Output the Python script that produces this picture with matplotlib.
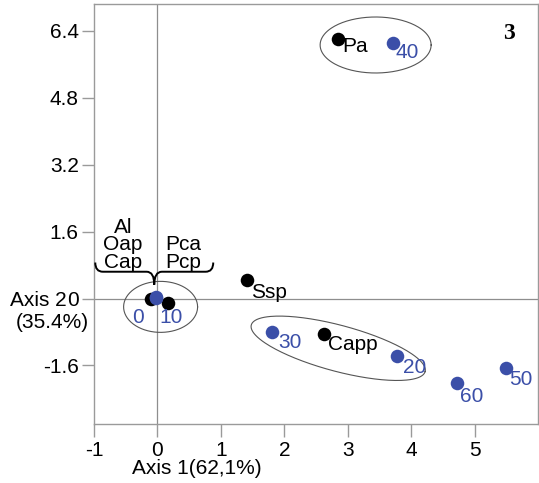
import numpy as np
import matplotlib
matplotlib.use("Agg")
import matplotlib.pyplot as plt
from matplotlib.path import Path
from matplotlib.patches import PathPatch

plt.rcParams['font.family'] = ['Liberation Sans', 'DejaVu Sans']

# ordination scores: taxa (black) and sampling depths (blue)
taxa_names = ["", "", "Ssp", "Pa", "Capp"]
taxa_x = [-0.10, 0.16, 1.41, 2.85, 2.63]
taxa_y = [0.00, -0.10, 0.45, 6.20, -0.84]

depth_names = ["0", "10", "20", "30", "40", "50", "60"]
depth_x = [-0.03, -0.02, 3.78, 1.81, 3.72, 5.49, 4.73]
depth_y = [0.03, 0.01, -1.38, -0.79, 6.10, -1.67, -2.03]

# taxa sitting on the origin, listed above the brace
group_left = ["Al", "Oap", "Cap"]
group_right = ["Pca", "Pcp"]

x_ticks = [-1, 0, 1, 2, 3, 4, 5]
y_ticks = [-1.6, 0, 1.6, 3.2, 4.8, 6.4]

# label offsets in pixels (left edge, vertical centre)
taxa_off = [(0, 0), (0, 0), (4, -13), (4, -7), (4, -11)]
depth_off = [(-23, -20), (3, -19), (6, -11), (6, -11), (2, -9), (4, -11), (3, -13)]

FS = 15
BLUE = "#3b4fa8"
GRID = "#8e8e8e"

fig = plt.figure(figsize=(5.39, 4.83), dpi=100)
ax = fig.add_axes([94 / 539, 59 / 483, 444 / 539, 420 / 483])
ax.set_xlim(-1, 6)
ax.set_ylim(-3, 7.04)

for s in ax.spines.values():
    s.set_color("#9a9a9a")
    s.set_linewidth(1.0)

ax.axhline(0, color=GRID, lw=0.9, zorder=1)
ax.axvline(0, color=GRID, lw=0.9, zorder=1)

ax.set_xticks(x_ticks)
ax.set_xticklabels([str(t) for t in x_ticks])
ax.set_yticks(y_ticks)
ax.set_yticklabels(["0" if t == 0 else f"{t:.1f}" for t in y_ticks])
ax.tick_params(axis="both", length=9, width=1, color="#9a9a9a",
               labelsize=FS, labelcolor="black")
ax.tick_params(axis="y", pad=2)
ax.tick_params(axis="x", pad=3)

ax.scatter(taxa_x, taxa_y, s=95, color="black", zorder=3, linewidths=0)
ax.scatter(depth_x, depth_y, s=95, color=BLUE, zorder=4, linewidths=0)

for name, x, y, off in zip(taxa_names, taxa_x, taxa_y, taxa_off):
    if name:
        ax.annotate(name, (x, y), xytext=off, textcoords="offset pixels",
                    ha="left", va="center", fontsize=FS, color="black", zorder=5)
for name, x, y, off in zip(depth_names, depth_x, depth_y, depth_off):
    ax.annotate(name, (x, y), xytext=off, textcoords="offset pixels",
                ha="left", va="center", fontsize=FS, color=BLUE, zorder=5)

# group ellipses: data centre, size in pixels, tilt in degrees
fig.canvas.draw()
p0 = ax.transData.transform((0, 0))
sx = ax.transData.transform((1, 0))[0] - p0[0]
sy = ax.transData.transform((0, 1))[1] - p0[1]
ellipses = [((0.05, -0.20), 74, 51, 0), ((3.44, 6.06), 111, 56, 0),
            ((2.85, -1.19), 180, 46, -15)]
t = np.linspace(0, 2 * np.pi, 200)
for (cx, cy), w, h, ang in ellipses:
    a, b, th = w / 2, h / 2, np.radians(ang)
    ex = cx + (a * np.cos(th) * np.cos(t) - b * np.sin(th) * np.sin(t)) / sx
    ey = cy + (a * np.sin(th) * np.cos(t) + b * np.cos(th) * np.sin(t)) / sy
    ax.plot(ex, ey, color="#555555", lw=0.8, zorder=2)

# curly brace under the grouped names
def brace(x0, xm, x1, y_end, y_flat, y_tip, r):
    verts = [(x0, y_end), (x0, y_flat), (x0 + r, y_flat),
             (xm - r, y_flat),
             (xm, y_flat), (xm, y_tip),
             (xm, y_flat), (xm + r, y_flat),
             (x1 - r, y_flat),
             (x1, y_flat), (x1, y_end)]
    codes = [Path.MOVETO, Path.CURVE3, Path.CURVE3, Path.LINETO,
             Path.CURVE3, Path.CURVE3, Path.CURVE3, Path.CURVE3,
             Path.LINETO, Path.CURVE3, Path.CURVE3]
    return PathPatch(Path(verts, codes), fill=False, lw=1.4, color="black",
                     clip_on=False, zorder=5)

ax.add_patch(brace(-0.98, -0.05, 0.88, 0.86, 0.64, 0.33, 0.12))
ax.text(-0.54, 1.29, "\n".join(group_left), ha="center", va="center",
        fontsize=FS, linespacing=0.9)
ax.text(0.41, 1.07, "\n".join(group_right), ha="center", va="center",
        fontsize=FS, linespacing=0.9)

ax.text(0.935, 0.929, "3", transform=ax.transAxes, ha="center", va="center",
        fontsize=17, fontweight="bold", family="Liberation Serif")

fig.text(67 / 539, 1 - 299 / 483, "Axis 2", ha="right", va="center_baseline",
         fontsize=FS)
fig.text(52 / 539, 1 - 322 / 483, "(35.4%)", ha="center", va="center",
         fontsize=FS)
fig.text(197 / 539, 1 - 468 / 483, "Axis 1(62,1%)", ha="center", va="center",
         fontsize=FS)

fig.savefig("out.png", dpi=100)
